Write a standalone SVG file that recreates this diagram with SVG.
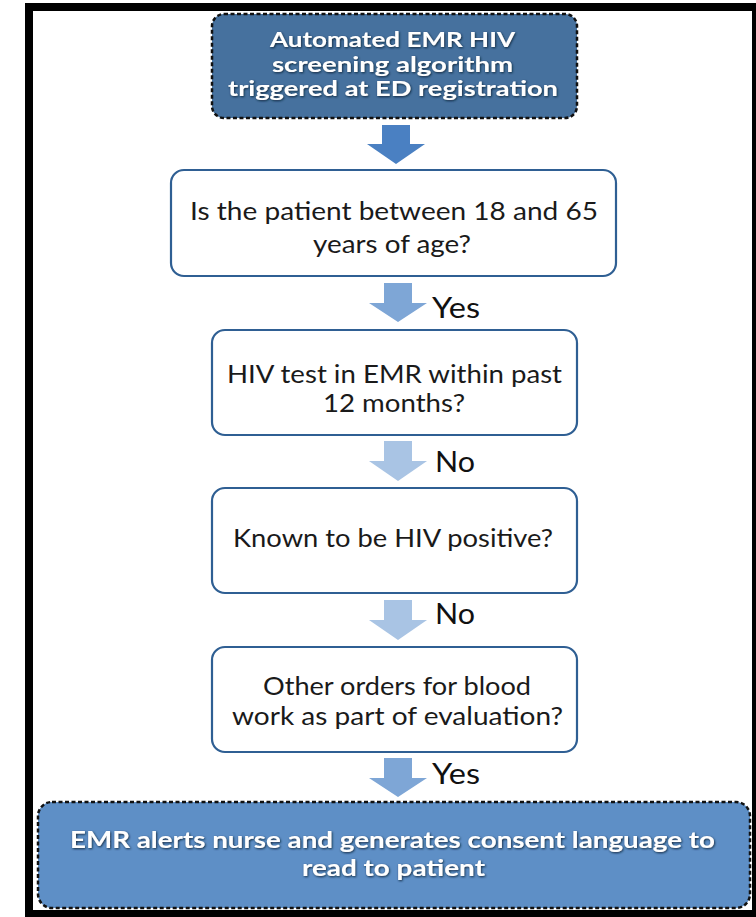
<svg xmlns="http://www.w3.org/2000/svg" width="756" height="917" viewBox="0 0 756 917">
<defs>
<style>
.q{fill:#fff;stroke:#2f5f93;stroke-width:2.2}
.qt{font-family:Lato,"Liberation Sans",sans-serif;font-size:25px;fill:#1a1a1a;text-anchor:middle}
.lbl{font-family:Lato,"Liberation Sans",sans-serif;font-size:28px;fill:#111}
.term{stroke:#111;stroke-width:2.5;stroke-dasharray:4 2.5}
.tt{font-family:Lato,"Liberation Sans",sans-serif;font-size:20px;font-weight:700;fill:#fff;text-anchor:middle;filter:url(#sh)}
.bt{font-family:Lato,"Liberation Sans",sans-serif;font-size:23px;font-weight:700;fill:#fff;text-anchor:middle;filter:url(#sh)}
</style>
<filter id="sh" x="-10%" y="-30%" width="120%" height="160%">
<feDropShadow dx="0.8" dy="1" stdDeviation="0.9" flood-color="#0d2238" flood-opacity="0.95"/>
</filter>
</defs>
<rect x="0" y="0" width="756" height="917" fill="#fff"/>
<rect x="29" y="7" width="727" height="907" fill="#fff" stroke="#000" stroke-width="8"/>

<g id="connectors">
<path d="M382,125 H410 V144 H425 L396,164 L367,144 H382 Z" fill="#4a80c2"/>
<path d="M384,283 H412 V303 H427 L398,322 L369,303 H384 Z" fill="#7ea6d6"/>
<text class="lbl" x="432" y="318" textLength="48" lengthAdjust="spacingAndGlyphs">Yes</text>
<path d="M384,441 H412 V461 H427 L398,481 L369,461 H384 Z" fill="#a9c4e4"/>
<text class="lbl" x="435" y="472" textLength="40" lengthAdjust="spacingAndGlyphs">No</text>
<path d="M384,600 H412 V620 H427 L398,640 L369,620 H384 Z" fill="#a9c4e4"/>
<text class="lbl" x="435" y="624" textLength="40" lengthAdjust="spacingAndGlyphs">No</text>
<path d="M384,758 H412 V778 H427 L398,797 L369,778 H384 Z" fill="#7ea6d6"/>
<text class="lbl" x="432" y="784" textLength="48" lengthAdjust="spacingAndGlyphs">Yes</text>
</g>

<g id="start">
<rect class="term" x="212" y="14" width="365" height="104" rx="12" fill="#46719e"/>
<text class="tt" x="392.5" y="47" textLength="245" lengthAdjust="spacingAndGlyphs">Automated EMR HIV</text>
<text class="tt" x="392.5" y="72" textLength="241" lengthAdjust="spacingAndGlyphs">screening algorithm</text>
<text class="tt" x="393" y="96" textLength="330" lengthAdjust="spacingAndGlyphs">triggered at ED registration</text>
</g>

<g id="age">
<rect class="q" x="171" y="170" width="445" height="106" rx="13"/>
<text class="qt" x="394" y="220" textLength="408" lengthAdjust="spacingAndGlyphs">Is the patient between 18 and 65</text>
<text class="qt" x="392" y="253" textLength="158" lengthAdjust="spacingAndGlyphs">years of age?</text>
</g>

<g id="recent-test">
<rect class="q" x="212" y="330" width="365" height="105" rx="13"/>
<text class="qt" x="394.5" y="383" textLength="335" lengthAdjust="spacingAndGlyphs">HIV test in EMR within past</text>
<text class="qt" x="394" y="412" textLength="142" lengthAdjust="spacingAndGlyphs">12 months?</text>
</g>

<g id="known-positive">
<rect class="q" x="212" y="488" width="365" height="105" rx="13"/>
<text class="qt" x="393" y="547" textLength="320" lengthAdjust="spacingAndGlyphs">Known to be HIV positive?</text>
</g>

<g id="blood-work">
<rect class="q" x="212" y="647" width="365" height="105" rx="13"/>
<text class="qt" x="397" y="695" textLength="268" lengthAdjust="spacingAndGlyphs">Other orders for blood</text>
<text class="qt" x="397.5" y="725" textLength="331" lengthAdjust="spacingAndGlyphs">work as part of evaluation?</text>
</g>

<g id="alert">
<rect class="term" x="38" y="802" width="712" height="106" rx="14" fill="#5e8fc6"/>
<text class="bt" x="392.5" y="848" textLength="645" lengthAdjust="spacingAndGlyphs">EMR alerts nurse and generates consent language to</text>
<text class="bt" x="393.5" y="876" textLength="183" lengthAdjust="spacingAndGlyphs">read to patient</text>
</g>
</svg>
